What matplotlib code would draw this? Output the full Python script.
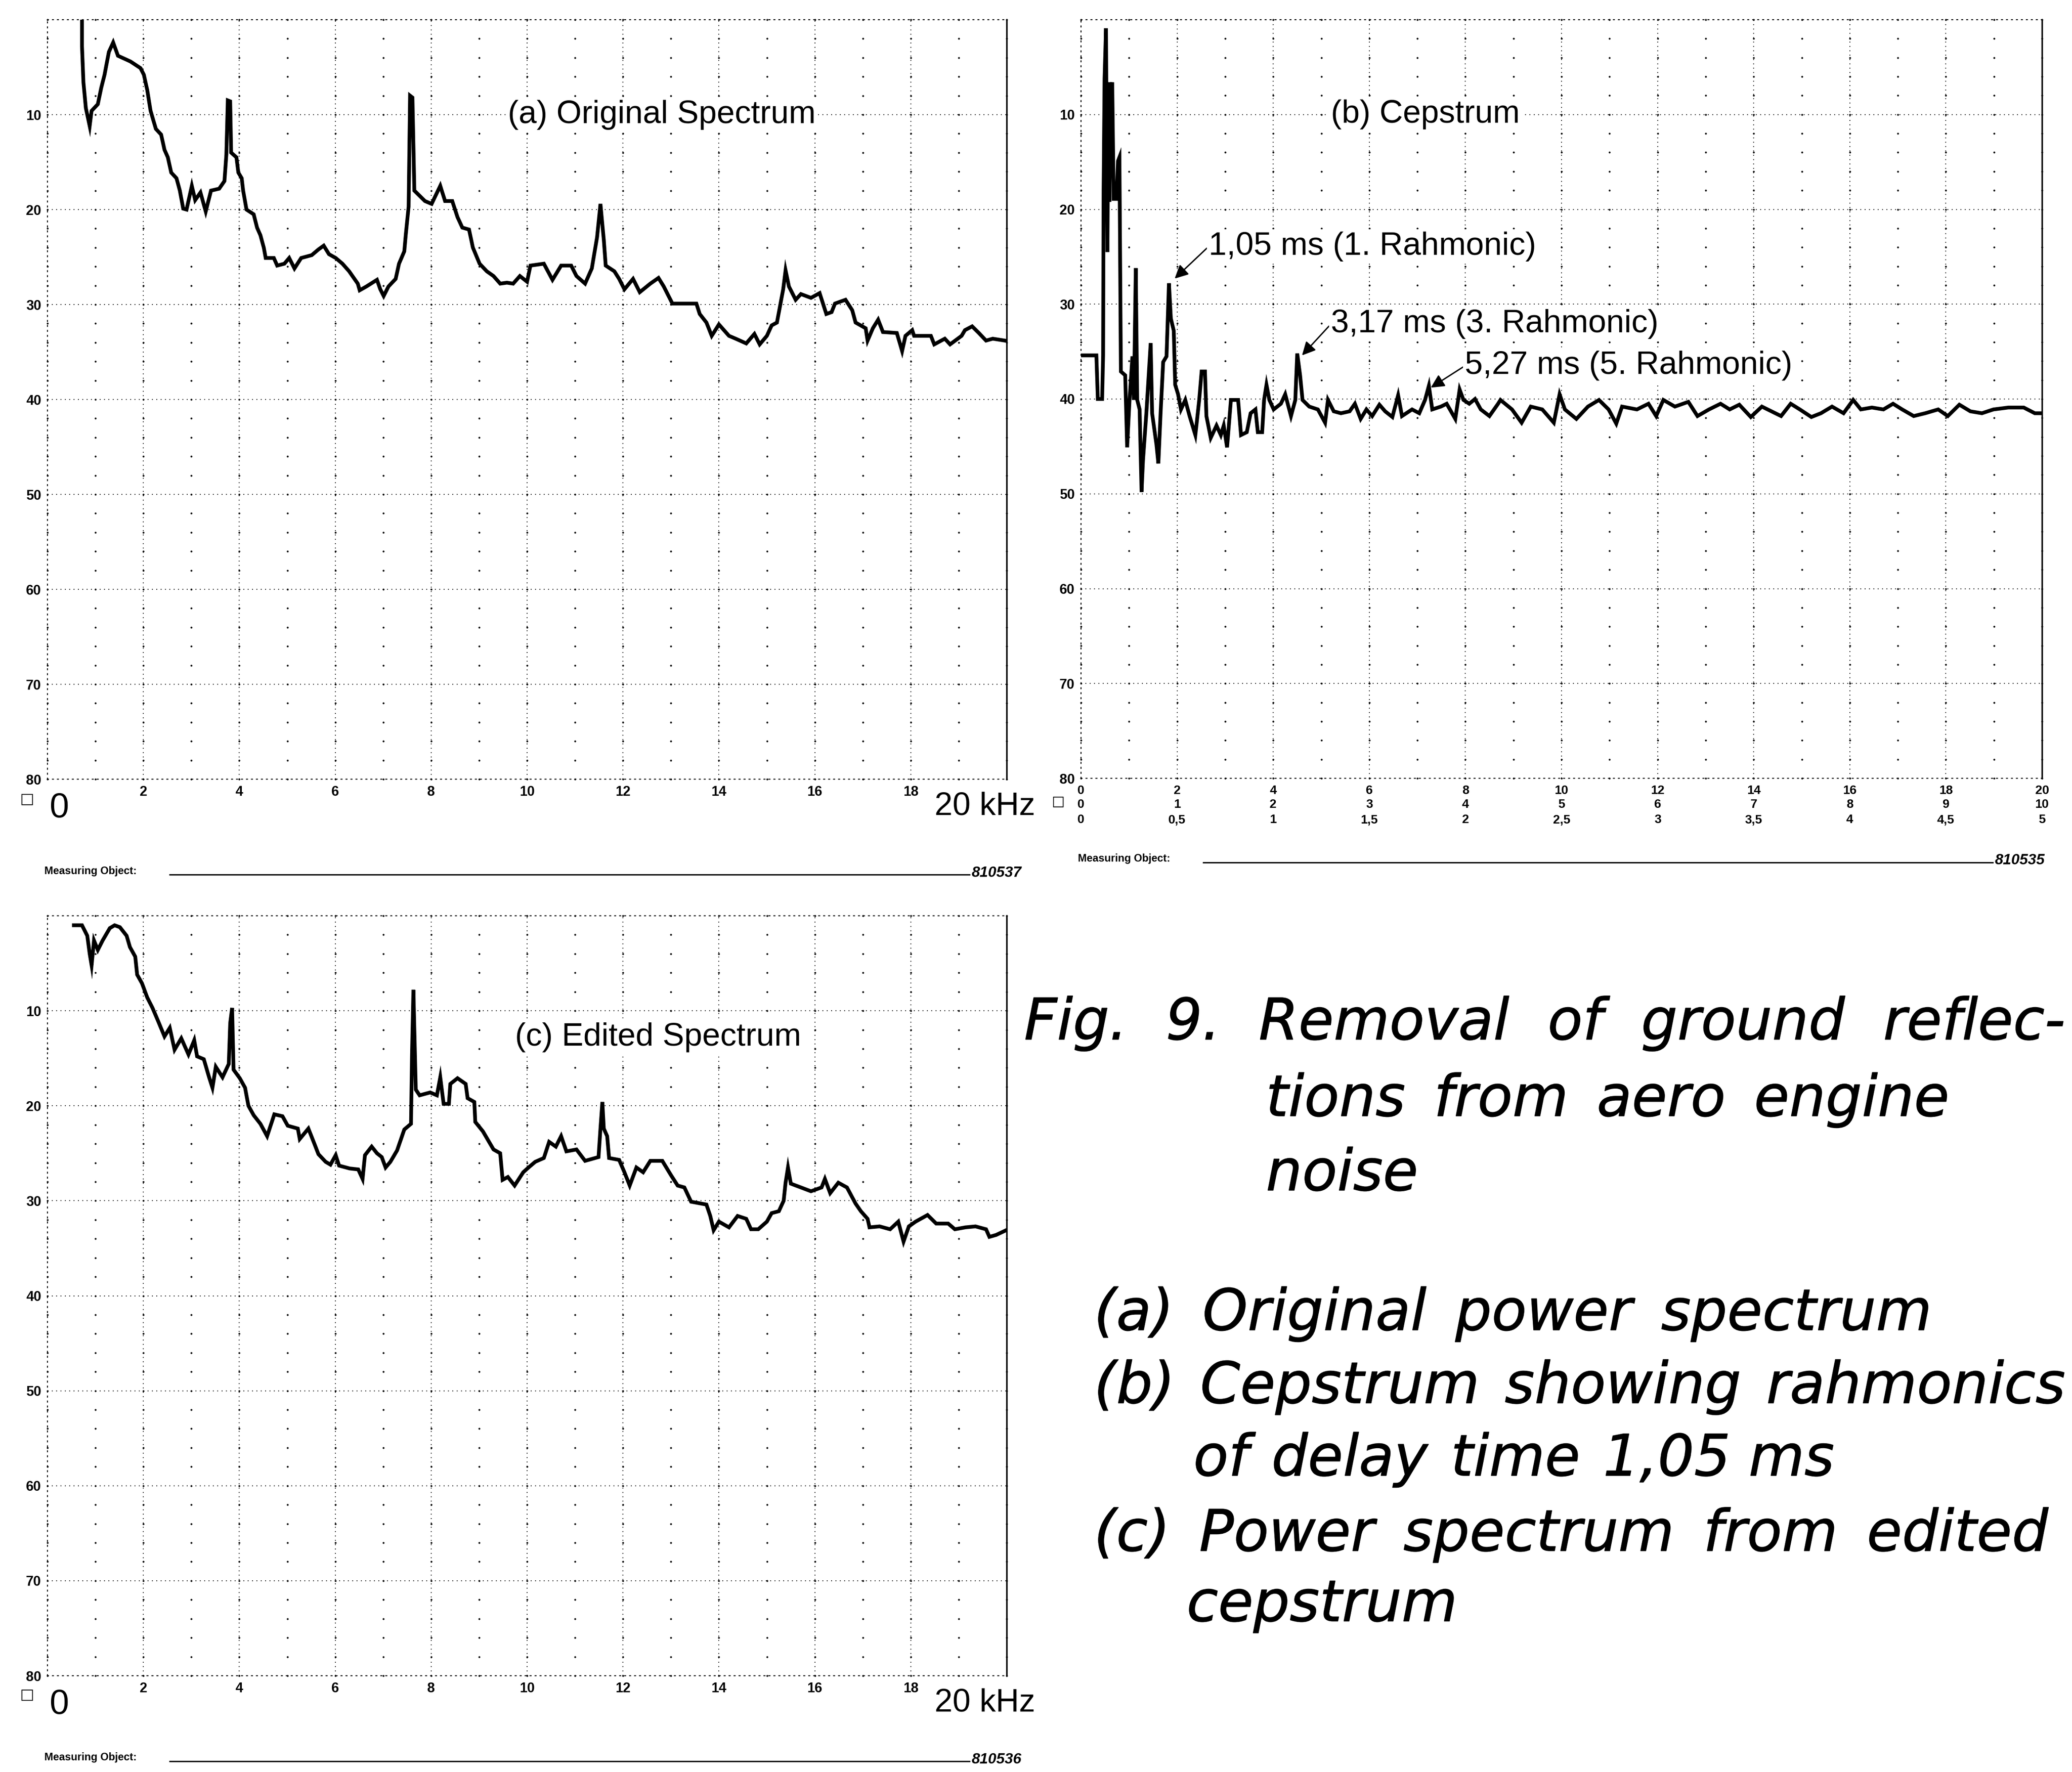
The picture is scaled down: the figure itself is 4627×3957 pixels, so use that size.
import numpy as np
import matplotlib.pyplot as plt
import matplotlib.patheffects as pe
from matplotlib.lines import Line2D

W, H = 4627, 3957
DPI = 100

# (a) original power spectrum: frequency in kHz, level in dB (0 at top)
orig_khz = [0.72, 0.72, 0.75, 0.80, 0.88, 0.92, 1.05, 1.12, 1.19, 1.28, 1.37, 1.47, 1.73, 1.94,
            2.01, 2.08, 2.15, 2.26, 2.37, 2.44, 2.51, 2.58, 2.69, 2.76, 2.83, 2.90, 3.01, 3.08,
            3.19, 3.30, 3.41, 3.58, 3.69, 3.73, 3.76, 3.81, 3.83, 3.94, 3.98, 4.05, 4.08, 4.15,
            4.30, 4.37, 4.44, 4.51, 4.55, 4.72, 4.79, 4.94, 5.04, 5.15, 5.29, 5.51, 5.65, 5.76,
            5.87, 6.01, 6.15, 6.29, 6.47, 6.51, 6.65, 6.87, 6.94, 7.01, 7.11, 7.26, 7.33, 7.44,
            7.47, 7.53, 7.56, 7.61, 7.65, 7.87, 8.01, 8.19, 8.29, 8.44, 8.55, 8.65, 8.79, 8.87,
            9.01, 9.16, 9.30, 9.44, 9.58, 9.71, 9.85, 10.00, 10.07, 10.35, 10.53, 10.71, 10.92,
            11.03, 11.21, 11.35, 11.46, 11.53, 11.60, 11.64, 11.82, 11.92, 12.03, 12.21, 12.35,
            12.57, 12.74, 12.85, 13.03, 13.53, 13.60, 13.74, 13.85, 14.00, 14.21, 14.35, 14.57,
            14.74, 14.85, 15.00, 15.10, 15.21, 15.28, 15.34, 15.39, 15.46, 15.60, 15.71, 15.92,
            16.10, 16.24, 16.35, 16.42, 16.64, 16.78, 16.85, 17.06, 17.10, 17.21, 17.32, 17.42,
            17.71, 17.82, 17.89, 18.03, 18.07, 18.42, 18.49, 18.71, 18.82, 19.06, 19.13, 19.28,
            19.42, 19.57, 19.71, 19.96]
orig_db = [0.0, 2.8, 6.6, 9.3, 11.2, 9.6, 8.9, 7.2, 5.8, 3.4, 2.4, 3.8, 4.4, 5.1,
           5.8, 7.4, 9.6, 11.5, 12.1, 13.7, 14.5, 16.1, 16.7, 18.0, 19.9, 20.0, 17.5, 19.0,
           18.2, 20.2, 18.0, 17.8, 17.0, 14.2, 8.5, 8.6, 14.0, 14.5, 16.1, 16.7, 18.0, 20.0,
           20.5, 21.9, 22.7, 24.0, 25.1, 25.1, 25.9, 25.7, 25.1, 26.2, 25.1, 24.8, 24.2, 23.8,
           24.7, 25.1, 25.7, 26.5, 27.8, 28.5, 28.1, 27.4, 28.4, 29.1, 28.1, 27.3, 25.7, 24.4,
           22.7, 19.7, 8.0, 8.2, 18.0, 19.1, 19.4, 17.5, 19.1, 19.1, 20.8, 21.9, 22.1, 24.0,
           25.7, 26.5, 27.0, 27.8, 27.7, 27.8, 27.0, 27.6, 25.9, 25.7, 27.4, 25.9, 25.9,
           27.0, 27.8, 26.2, 22.9, 19.4, 23.2, 25.9, 26.5, 27.3, 28.4, 27.3, 28.7,
           27.8, 27.2, 28.1, 29.9, 29.9, 31.0, 31.9, 33.3, 32.1, 33.3, 33.6, 34.1,
           33.1, 34.2, 33.3, 32.2, 31.9, 30.0, 28.4, 26.4, 28.1, 29.5, 28.9, 29.3,
           28.8, 31.0, 30.8, 29.9, 29.5, 30.6, 31.9, 32.5, 33.8, 32.5, 31.6, 32.9,
           33.0, 34.9, 33.3, 32.7, 33.3, 33.3, 34.2, 33.6, 34.2, 33.3, 32.7, 32.3,
           33.0, 33.8, 33.6, 33.8]

# (b) cepstrum: quefrency in scale units (0..20), level in dB
ceps_q = [0.03, 0.32, 0.35, 0.44, 0.46, 0.47, 0.49, 0.52, 0.55, 0.57, 0.59, 0.62, 0.65, 0.68,
          0.74, 0.77, 0.80, 0.83, 0.92, 0.96, 1.01, 1.07, 1.10, 1.14, 1.17, 1.22, 1.26, 1.29,
          1.36, 1.45, 1.48, 1.57, 1.61, 1.66, 1.71, 1.78, 1.83, 1.87, 1.93, 1.96, 2.02, 2.08,
          2.17, 2.26, 2.38, 2.46, 2.51, 2.58, 2.61, 2.70, 2.82, 2.91, 2.97, 3.04, 3.12, 3.27,
          3.33, 3.45, 3.53, 3.63, 3.68, 3.77, 3.81, 3.86, 3.92, 4.01, 4.16, 4.25, 4.37, 4.46,
          4.50, 4.56, 4.61, 4.75, 4.93, 5.08, 5.14, 5.26, 5.41, 5.59, 5.70, 5.82, 5.94, 6.06,
          6.21, 6.33, 6.48, 6.60, 6.68, 6.89, 7.04, 7.16, 7.24, 7.31, 7.49, 7.61, 7.79, 7.88,
          7.96, 8.08, 8.20, 8.32, 8.50, 8.68, 8.73, 8.97, 9.17, 9.36, 9.60, 9.84, 9.96, 10.07,
          10.31, 10.55, 10.78, 10.98, 11.14, 11.26, 11.57, 11.81, 11.97, 12.12, 12.36, 12.64,
          12.83, 13.07, 13.31, 13.50, 13.70, 13.94, 14.17, 14.57, 14.77, 14.96, 15.20, 15.40,
          15.63, 15.87, 16.07, 16.23, 16.46, 16.70, 16.90, 17.09, 17.33, 17.57, 17.84, 18.04,
          18.28, 18.51, 18.75, 18.99, 19.30, 19.62, 19.85, 20.00]
ceps_db = [35.4, 35.4, 40.0, 40.0, 35.4, 17.9, 6.2, 0.9, 24.5, 6.6, 19.2, 7.6, 6.6, 18.9,
           18.9, 14.9, 14.5, 37.1, 37.5, 45.1, 40.1, 35.5, 40.1, 26.2, 40.1, 41.1, 49.8, 46.5,
           41.5, 34.1, 41.5, 44.8, 46.8, 41.1, 36.1, 35.5, 27.8, 31.5, 32.8, 38.5, 39.5, 41.1,
           40.1, 41.8, 43.8, 40.1, 37.1, 37.1, 41.8, 44.1, 42.8, 43.8, 42.8, 45.1, 40.1, 40.1,
           43.8, 43.5, 41.5, 41.1, 43.5, 43.5, 40.1, 38.5, 40.1, 41.1, 40.5, 39.5, 41.8, 40.1,
           35.2, 37.5, 40.1, 40.8, 41.1, 42.5, 40.1, 41.3, 41.5, 41.3, 40.5, 42.1, 41.1, 41.8,
           40.6, 41.3, 41.9, 39.6, 41.8, 41.1, 41.5, 40.1, 38.6, 41.1, 40.8, 40.5, 42.1, 39.0,
           40.1, 40.5, 40.0, 41.1, 41.8, 40.5, 40.1, 41.1, 42.5, 40.8, 41.1, 42.5, 39.5, 41.1,
           42.1, 40.8, 40.1, 41.1, 42.6, 40.8, 41.1, 40.5, 41.8, 40.1, 40.8, 40.3,
           41.8, 41.1, 40.5, 41.1, 40.6, 41.9, 40.8, 41.8, 40.5, 41.1, 41.9, 41.5,
           40.8, 41.5, 40.1, 41.1, 40.9, 41.1, 40.5, 41.1, 41.8, 41.5, 41.1, 41.8,
           40.6, 41.3, 41.5, 41.1, 40.9, 40.9, 41.5, 41.5]

# (c) power spectrum from edited cepstrum
edit_khz = [0.55, 0.72, 0.83, 0.88, 0.92, 0.97, 1.05, 1.15, 1.30, 1.40, 1.51, 1.65, 1.72, 1.83,
            1.87, 1.97, 2.08, 2.19, 2.30, 2.44, 2.55, 2.65, 2.79, 2.94, 3.06, 3.12, 3.26, 3.37,
            3.44, 3.51, 3.65, 3.78, 3.81, 3.85, 3.88, 4.01, 4.12, 4.19, 4.30, 4.44, 4.58, 4.73,
            4.90, 5.01, 5.22, 5.26, 5.44, 5.55, 5.65, 5.80, 5.90, 6.01, 6.08, 6.30, 6.48, 6.57,
            6.62, 6.76, 6.87, 6.97, 7.05, 7.15, 7.29, 7.44, 7.58, 7.60, 7.63, 7.68, 7.76, 7.98,
            8.12, 8.19, 8.26, 8.37, 8.40, 8.55, 8.72, 8.76, 8.90, 8.92, 9.08, 9.30, 9.44, 9.49,
            9.60, 9.74, 9.92, 10.03, 10.17, 10.35, 10.46, 10.60, 10.71, 10.82, 11.03, 11.21,
            11.49, 11.53, 11.57, 11.60, 11.67, 11.71, 11.92, 12.03, 12.14, 12.28, 12.42, 12.57,
            12.82, 13.00, 13.14, 13.28, 13.42, 13.74, 13.82, 13.89, 14.00, 14.21, 14.39, 14.57,
            14.67, 14.82, 15.00, 15.10, 15.25, 15.35, 15.39, 15.44, 15.50, 15.71, 15.92, 16.14,
            16.21, 16.32, 16.49, 16.67, 16.85, 16.96, 17.10, 17.14, 17.35, 17.57, 17.74, 17.85,
            17.96, 18.10, 18.35, 18.53, 18.78, 18.92, 19.14, 19.35, 19.57, 19.64, 19.78, 19.99]
edit_db = [1.0, 1.0, 2.1, 4.0, 5.2, 2.6, 3.6, 2.6, 1.3, 1.0, 1.2, 2.1, 3.3, 4.3,
           6.2, 7.1, 8.6, 9.7, 11.0, 12.7, 11.8, 14.1, 12.9, 14.6, 13.1, 14.8, 15.1, 17.0,
           18.1, 15.9, 17.0, 15.6, 11.3, 9.7, 16.2, 17.1, 18.1, 20.0, 21.0, 21.9, 23.2, 20.9,
           21.1, 22.1, 22.4, 23.5, 22.4, 23.8, 25.1, 25.9, 26.2, 25.2, 26.3, 26.6, 26.7, 27.7,
           25.2, 24.3, 25.0, 25.4, 26.5, 25.9, 24.7, 22.5, 21.9, 14.8, 7.8, 18.3, 18.9, 18.6,
           18.9, 17.0, 19.8, 19.8, 17.7, 17.1, 17.7, 19.2, 19.6, 21.7, 22.7, 24.6, 25.0, 27.8,
           27.5, 28.4, 27.0, 26.5, 25.9, 25.5, 23.8, 24.3, 23.2, 24.8, 24.6, 25.8,
           25.4, 22.4, 19.6, 22.4, 23.2, 25.5, 25.7, 27.0, 28.4, 26.5, 27.0, 25.8,
           25.8, 27.3, 28.4, 28.6, 30.1, 30.4, 31.6, 33.1, 32.2, 32.8, 31.6, 31.9,
           33.0, 33.0, 32.2, 31.3, 31.1, 30.0, 28.1, 26.5, 28.2, 28.6, 29.0, 28.6,
           27.7, 29.2, 28.1, 28.6, 30.3, 31.1, 31.9, 32.8, 32.7, 33.0, 32.2, 34.3,
           32.7, 32.2, 31.5, 32.4, 32.4, 33.0, 32.8, 32.7, 33.0, 33.8, 33.6, 33.1]

db_ticks = [10, 20, 30, 40, 50, 60, 70, 80]
khz_ticks = [2, 4, 6, 8, 10, 12, 14, 16, 18]
ceps_ticks = [0, 2, 4, 6, 8, 10, 12, 14, 16, 18, 20]
ceps_row1 = ['0', '2', '4', '6', '8', '10', '12', '14', '16', '18', '20']
ceps_row2 = ['0', '1', '2', '3', '4', '5', '6', '7', '8', '9', '10']
ceps_row3 = ['0', '0,5', '1', '1,5', '2', '2,5', '3', '3,5', '4', '4,5', '5']

# caption, one list of words per printed line
caption_words = [
    ['Fig.', '9.', 'Removal', 'of', 'ground', 'reflec-'],
    ['tions', 'from', 'aero', 'engine'],
    ['noise'],
    ['(a)', 'Original', 'power', 'spectrum'],
    ['(b)', 'Cepstrum', 'showing', 'rahmonics'],
    ['of', 'delay', 'time', '1,05 ms'],
    ['(c)', 'Power', 'spectrum', 'from', 'edited'],
    ['cepstrum'],
]

plt.rcParams['font.family'] = ['Liberation Sans', 'DejaVu Sans']

fig = plt.figure(figsize=(W / DPI, H / DPI), dpi=DPI)
fig.patch.set_facecolor('white')


def add_frame(left, top, right, bottom):
    # place an axes by its pixel edges
    return fig.add_axes([left / W, 1 - bottom / H, (right - left) / W, (bottom - top) / H])


def chart_paper(ax):
    ax.set_xlim(0, 20)
    ax.set_ylim(80, 0)
    dots = (0, (1, 4))
    for x in range(2, 20, 2):
        ax.axvline(x, color='k', lw=1.4, ls=dots, zorder=1)
    for y in range(10, 80, 10):
        ax.axhline(y, color='k', lw=1.4, ls=dots, zorder=1)
    gx, gy = np.meshgrid(np.arange(0, 21), np.arange(0, 81, 2))
    ax.plot(gx.ravel(), gy.ravel(), ls='none', marker='.', ms=4, color='k',
            zorder=1, clip_on=False)
    for side in ('left', 'top', 'bottom'):
        ax.spines[side].set_linestyle(dots)
        ax.spines[side].set_linewidth(1.6)
    ax.spines['right'].set_linewidth(2.5)
    ax.set_yticks(db_ticks)
    ax.set_yticklabels([str(v) for v in db_ticks])
    ax.tick_params(length=0)
    ax.tick_params(axis='y', pad=10, labelsize=22)
    for lbl in ax.get_yticklabels():
        lbl.set_fontweight('bold')


def spectrum_axis(ax):
    ax.set_xticks(khz_ticks)
    ax.set_xticklabels([str(v) for v in khz_ticks], fontsize=22, fontweight='bold')
    ax.tick_params(axis='x', pad=10)
    ax.text(0.05, 81.3, '0', fontsize=56, va='top', ha='left')
    ax.text(18.5, 81.3, '20 kHz', fontsize=52, va='top', ha='left')


def footer(x0, y, line_end, code):
    fig.text(x0 / W, 1 - y / H, 'Measuring Object:', fontsize=17, fontweight='bold',
             va='center', ha='left')
    fig.add_artist(Line2D([(x0 + 280) / W, line_end / W], [1 - (y + 8) / H] * 2,
                          transform=fig.transFigure, color='k', lw=2.2))
    fig.text((line_end + 5) / W, 1 - (y + 4) / H, code, fontsize=24, fontweight='bold',
             style='italic', va='center', ha='left')


title_box = dict(fc='white', ec='none', pad=3)
trace = dict(color='k', lw=6, solid_joinstyle='miter', zorder=3)

# (a) original spectrum
ax_a = add_frame(106, 44, 2248, 1740)
chart_paper(ax_a)
spectrum_axis(ax_a)
ax_a.plot(orig_khz, orig_db, **trace)
ax_a.text(9.6, 10, '(a) Original Spectrum', fontsize=52, va='center', ha='left', bbox=title_box)
fig.text(45 / W, 1 - 1785 / H, '\u25a1', fontsize=24, va='center', family='DejaVu Sans')
footer(99, 1945, 2165, '810537')

# (b) cepstrum
ax_b = add_frame(2414, 44, 4560, 1738)
chart_paper(ax_b)
ax_b.set_xticks([])
ax_b.plot(ceps_q, ceps_db, **trace)
for q, r1, r2, r3 in zip(ceps_ticks, ceps_row1, ceps_row2, ceps_row3):
    ax_b.text(q, 81.3, r1, fontsize=20, fontweight='bold', ha='center', va='center')
    ax_b.text(q, 82.8, r2, fontsize=20, fontweight='bold', ha='center', va='center')
    ax_b.text(q, 84.4, r3, fontsize=20, fontweight='bold', ha='center', va='center')
ax_b.text(5.2, 10, '(b) Cepstrum', fontsize=52, va='center', ha='left', bbox=title_box)
arrow = dict(arrowstyle='-|>', color='k', lw=2.2, mutation_scale=45, shrinkA=0, shrinkB=0,
             relpos=(0, 0.5))
ax_b.annotate('1,05 ms (1. Rahmonic)', xy=(1.95, 27.3), xytext=(2.66, 23.9), fontsize=52,
              va='center', ha='left', bbox=title_box, arrowprops=arrow)
ax_b.annotate('3,17 ms (3. Rahmonic)', xy=(4.6, 35.4), xytext=(5.2, 32.1), fontsize=52,
              va='center', ha='left', bbox=title_box, arrowprops=arrow)
ax_b.annotate('5,27 ms (5. Rahmonic)', xy=(7.28, 38.8), xytext=(7.99, 36.5), fontsize=52,
              va='center', ha='left', bbox=title_box, arrowprops=arrow)
fig.text(2348 / W, 1 - 1790 / H, '\u25a1', fontsize=22, va='center', family='DejaVu Sans')
footer(2407, 1918, 4450, '810535')

# (c) edited spectrum
ax_c = add_frame(106, 2045, 2248, 3742)
chart_paper(ax_c)
spectrum_axis(ax_c)
ax_c.plot(edit_khz, edit_db, **trace)
ax_c.text(9.75, 12.8, '(c) Edited Spectrum', fontsize=52, va='center', ha='left', bbox=title_box)
fig.text(45 / W, 1 - 3785 / H, '\u25a1', fontsize=24, va='center', family='DejaVu Sans')
footer(99, 3925, 2165, '810536')

# figure caption, words spread out to fill each printed line
cap_layout = [(2287, 4612, 2272), (2827, 4353, 2443), (2827, None, 2609),
              (2443, 4314, 2921), (2443, 4612, 3084), (2665, 4096, 3246),
              (2443, 4574, 3414), (2650, None, 3571)]
heavy = [pe.withStroke(linewidth=1.0, foreground='k')]
renderer = fig.canvas.get_renderer()
for (x0, x1, y), words in zip(cap_layout, caption_words):
    items = [fig.text(0, 1 - y / H, w, fontsize=92, family='DejaVu Sans', style='oblique',
                      va='center_baseline', ha='left', path_effects=heavy) for w in words]
    widths = [t.get_window_extent(renderer).width for t in items]
    gap = 0 if x1 is None else (x1 - x0 - sum(widths)) / max(len(words) - 1, 1)
    x = x0
    for t, w in zip(items, widths):
        t.set_x(x / W)
        x += w + gap

fig.savefig('out.png', dpi=DPI)
